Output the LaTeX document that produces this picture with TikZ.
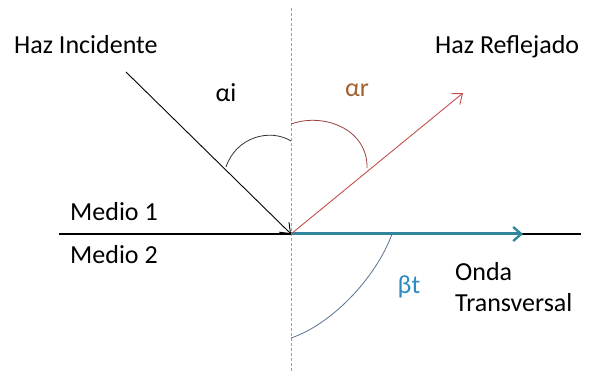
\documentclass[tikz,border=0pt]{standalone}
\usepackage{fontspec}
\setmainfont{Carlito}
\usetikzlibrary{arrows.meta}
\definecolor{teal1}{HTML}{31859C}
\definecolor{refl}{HTML}{C0504D}
\definecolor{dashc}{HTML}{B0A070}
\definecolor{arbrown}{HTML}{A0602F}
\definecolor{btblue}{HTML}{2E8BC0}
\definecolor{arcblue}{HTML}{5A7090}
\tikzset{
  lbl/.style={font=\fontsize{26}{30}\selectfont, inner sep=0pt},
  ray/.style={line width=0.9pt},
  arcline/.style={line width=0.8pt}
}
\begin{document}
\begin{tikzpicture}[x=1pt,y=-1pt]
\useasboundingbox (0,0) rectangle (591,371);
\coordinate (O) at (291,234);
\coordinate (Ltop) at (291,8);
\coordinate (Lbot) at (291,371);
\coordinate (Lleft) at (59,234);
\coordinate (Lright) at (581,234);
\coordinate (Iin) at (126,72);
\coordinate (Rout) at (463,93);
\coordinate (Tend) at (523,234);
% interface
\draw[line width=2.2pt] (Lleft) -- (Lright);
% normal
\draw[dashc, line width=0.8pt, dash pattern=on 3pt off 2pt] (Ltop) -- (Lbot);
% transmitted
\draw[teal1, line width=3pt, -{Straight Barb[length=8pt,width=14pt,line width=2.4pt]}] (O) -- (Tend);
% incident
\draw[ray, -{Straight Barb[length=9pt,width=14pt]}] (Iin) -- (O);
% reflected
\draw[ray, refl, -{Straight Barb[length=9pt,width=14pt]}] (O) -- (Rout);
% arcs
\draw[arcline, black!80] (226,167) .. controls (236,137) and (270,128) .. (291,141);
\draw[arcline, refl!80!black] (291,124) .. controls (325,112) and (368,130) .. (367,168);
\draw[arcline, arcblue] (392,234) .. controls (375,280) and (330,325) .. (291,338);
% labels
\node[lbl, anchor=west] (hi) at (14,45) {Haz Incidente};
\node[lbl, anchor=west] (hr) at (435,47) {Haz Reflejado};
\node[lbl] (ai) at (226,93) {αi};
\node[lbl, text=arbrown] (ar) at (357,90) {αr};
\node[lbl, anchor=west] (m1) at (70,212) {Medio 1};
\node[lbl, anchor=west] (m2) at (70,255) {Medio 2};
\node[lbl, text=btblue] (bt) at (409,287) {βt};
\node[lbl, anchor=west] (on) at (455,272) {Onda};
\node[lbl, anchor=west] (tr) at (455,303) {Transversal};
\end{tikzpicture}
\end{document}
